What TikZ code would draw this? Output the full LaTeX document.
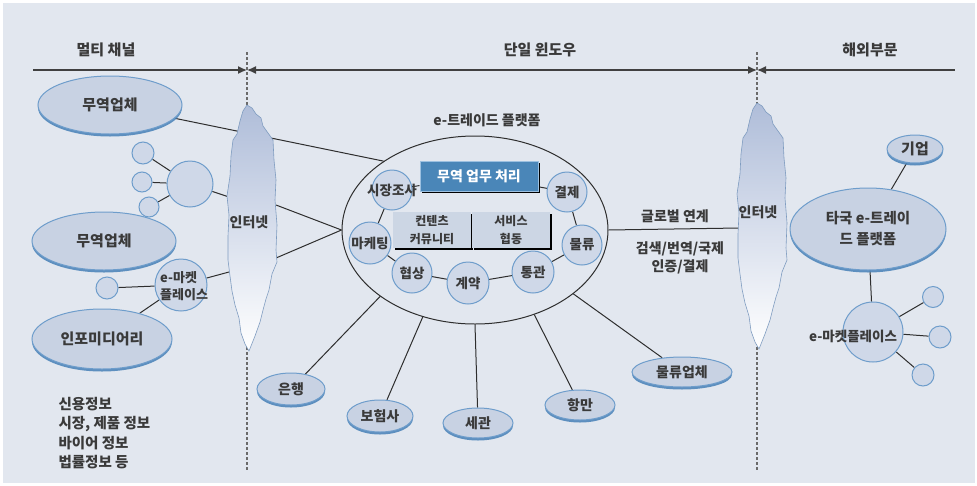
\documentclass[tikz,border=0pt]{standalone}
\usepackage{fontspec}
\setmainfont{Noto Sans CJK KR}
\usetikzlibrary{shapes.geometric,arrows.meta,shadows}
\definecolor{bg}{HTML}{E2E7EF}
\definecolor{bubfill}{HTML}{C8D2E3}
\definecolor{circfill}{HTML}{CFD8E8}
\definecolor{bubedge}{HTML}{6E9DCB}
\definecolor{bubshadow}{HTML}{4F86BA}
\definecolor{textc}{HTML}{3A3A3A}
\definecolor{linec}{HTML}{2E2E2E}
\definecolor{boxblue}{HTML}{4A86B8}
\definecolor{boxedge}{HTML}{9CC0E0}
\definecolor{gridfill}{HTML}{CCD6E4}
\definecolor{cloudtop}{HTML}{AFBDD9}
\definecolor{cloudedge}{HTML}{7F9CC0}
\definecolor{dashc}{HTML}{6A6A6A}
\pgfdeclarelayer{bgfill}
\pgfdeclarelayer{bglines}
\pgfsetlayers{bgfill,bglines,main}
\newcommand\cloudshape{(247,105) -- (252,108) -- (256,114) -- (261,118) -- (263,126) -- (268,133) -- (273,140) -- (274,160) -- (276,180) -- (275,200) -- (277,225) -- (276,250) -- (277,262) -- (272,274) -- (269,290) -- (266,299) -- (263,310) -- (260,322) -- (255,336) -- (249,351) -- (245,344) -- (241,333) -- (239,318) -- (235,305) -- (232,291) -- (230,276) -- (228,260) -- (228,236) -- (229,215) -- (227,196) -- (230,176) -- (231,156) -- (233,140) -- (237,134) -- (240,121) -- (243,111) -- cycle}
\begin{document}
\begin{tikzpicture}[x=1pt,y=-1pt,
  lbl/.style={font=\fontsize{15}{18}\selectfont\bfseries, text=textc},
  ilbl/.style={font=\fontsize{13.5}{16}\selectfont\bfseries, text=textc},
  bub/.style={ellipse, inner sep=0pt, fill=bubfill, draw=bubedge, line width=1pt,
    drop shadow={shadow xshift=0pt, shadow yshift=-2.5pt, fill=bubshadow, opacity=0.9},
    font=\fontsize{15}{18}\selectfont\bfseries, text=textc},
  sc/.style={circle, inner sep=0pt, fill=circfill, draw=bubedge, line width=1pt},
  conn/.style={draw=linec, line width=1pt},
  cloudsty/.style={top color=cloudtop, middle color=white, bottom color=white, draw=cloudedge, line width=0.6pt},
  cell/.style={rectangle, inner sep=0pt, fill=gridfill, minimum width=78, minimum height=18,
    font=\fontsize{12}{14}\selectfont\bfseries, text=textc,
    drop shadow={shadow xshift=1.5pt, shadow yshift=-1.5pt, fill=black, opacity=1}},
  axis/.style={draw=black!75, line width=1.3pt}
]
\useasboundingbox (0,0) rectangle (977,485);
\begin{pgfonlayer}{bgfill}
\fill[white] (0,0) rectangle (977,485);
\fill[bg] (3,3) rectangle (975,483);
\end{pgfonlayer}

% top axis
\coordinate (ls) at (33,70);
\coordinate (d1) at (247,70);
\coordinate (d2) at (757,70);
\coordinate (le) at (955,70);
\draw[axis, -{Latex[length=9pt,width=8pt]}] (ls) -- (d1);
\draw[axis, {Latex[length=9pt,width=8pt]}-{Latex[length=9pt,width=8pt]}] (d1) -- (d2);
\draw[axis, {Latex[length=9pt,width=8pt]}-] (d2) -- (le);
\node[lbl] (t1) at (106,50) {멀티 채널};
\node[lbl] (t2) at (540,50) {단일 윈도우};
\node[lbl] (t3) at (870,50) {해외부문};

% clouds
\path[cloudsty] \cloudshape;
\path[cloudsty, shift={(510,-2)}] \cloudshape;
\node[lbl, font=\fontsize{14}{16}\selectfont\bfseries] (net1) at (249,222) {인터넷};
\node[lbl, font=\fontsize{14}{16}\selectfont\bfseries] (net2) at (758,212) {인터넷};

% cloud edge points
\coordinate (lcb) at (229,197);
\coordinate (lc1) at (276,205);
\coordinate (lc2) at (276,258);
\coordinate (lc3) at (229,272);
\coordinate (rc1) at (739,228);

% left side
\node[bub, minimum width=144, minimum height=58] (tr1) at (110,105) {무역업체};
\node[bub, minimum width=144, minimum height=58] (tr2) at (104,241) {무역업체};
\node[bub, minimum width=140, minimum height=60] (info) at (102,339) {인포미디어리};
\node[sc, minimum size=46] (big) at (190,184) {};
\node[sc, minimum size=22] (s1) at (143,153) {};
\node[sc, minimum size=20] (s2) at (142,182) {};
\node[sc, minimum size=20] (s3) at (149,207) {};
\node[sc, minimum size=52] (emkt) at (181,285) {};
\node[ilbl, align=left, anchor=west, inner sep=0pt, font=\fontsize{13}{17}\selectfont\bfseries] (emktt) at (160,286) {e-마켓\\플레이스};
\node[sc, minimum size=22] (s4) at (107,288) {};

% central platform
\node[lbl, font=\fontsize{14}{16}\selectfont\bfseries] (ptitle) at (487,120) {e-트레이드 플랫폼};
\node[ellipse, draw=linec, line width=1pt, inner sep=0pt, minimum width=266, minimum height=188] (plat) at (475,230) {};
\node[rectangle, fill=boxblue, draw=boxedge, line width=1pt, minimum width=118, minimum height=30, inner sep=0pt,
  text=white, font=\fontsize{14}{16}\selectfont\bfseries,
  drop shadow={shadow xshift=2pt, shadow yshift=-2pt, fill=black, opacity=1}] (work) at (479,176) {무역 업무 처리};
\node[cell] (c1) at (432,221) {컨텐츠};
\node[cell] (c2) at (511,221) {서비스};
\node[cell] (c3) at (432,239) {커뮤니티};
\node[cell] (c4) at (511,239) {협동};
\node[sc, minimum size=40, label={[ilbl]center:시장조사}] (mkt) at (392,190) {};
\node[sc, minimum size=40, label={[ilbl]center:결제}] (pay) at (567,192) {};
\node[sc, minimum size=42, label={[ilbl]center:마케팅}] (mark) at (370,243) {};
\node[sc, minimum size=40, label={[ilbl]center:물류}] (logi) at (582,245) {};
\node[sc, minimum size=40, label={[ilbl]center:협상}] (nego) at (412,273) {};
\node[sc, minimum size=42, label={[ilbl]center:계약}] (cont) at (468,283) {};
\node[sc, minimum size=42, label={[ilbl]center:통관}] (cust) at (533,272) {};

% bottom nodes
\node[bub, minimum width=68, minimum height=32, font=\fontsize{14}{16}\selectfont\bfseries] (bank) at (291,389) {은행};
\node[bub, minimum width=66, minimum height=32, font=\fontsize{14}{16}\selectfont\bfseries] (ins) at (380,416) {보험사};
\node[bub, minimum width=70, minimum height=30, font=\fontsize{14}{16}\selectfont\bfseries] (cus) at (478,423) {세관};
\node[bub, minimum width=70, minimum height=30, font=\fontsize{14}{16}\selectfont\bfseries] (port) at (580,405) {항만};
\node[bub, minimum width=100, minimum height=30, font=\fontsize{14}{16}\selectfont\bfseries] (lco) at (682,372) {물류업체};

% right side
\node[lbl, font=\fontsize{14}{16}\selectfont\bfseries] (glob) at (675,216) {글로벌 연계};
\node[lbl, align=center, font=\fontsize{14}{18.5}\selectfont\bfseries] (globs) at (680,258) {검색/번역/국제\\인증/결제};
\node[bub, minimum width=156, minimum height=82, align=center, font=\fontsize{14.5}{21}\selectfont\bfseries] (other) at (868,229) {타국 e-트레이\\드 플랫폼};
\node[bub, minimum width=56, minimum height=28] (corp) at (915,149) {기업};
\node[sc, minimum size=60] (emkt2) at (873,332) {};
\node[ilbl] (emkt2t) at (853,336) {e-마켓플레이스};
\node[sc, minimum size=21] (r1) at (933,297) {};
\node[sc, minimum size=22] (r2) at (940,337) {};
\node[sc, minimum size=22] (r3) at (923,375) {};

% lines behind
\begin{pgfonlayer}{bglines}
\draw[dashc, line width=1.3pt, dash pattern=on 2.5pt off 2.5pt] (247,52) -- (247,470);
\draw[dashc, line width=1.3pt, dash pattern=on 2.5pt off 2.5pt] (757,52) -- (757,470);
\draw[conn] (tr1) -- (plat.143);
\draw[conn] (s1) -- (big);
\draw[conn] (s2) -- (big);
\draw[conn] (s3) -- (big);
\draw[conn] (big) -- (lcb);
\draw[conn] (lc1) -- (plat.180);
\draw[conn] (lc2) -- (plat.180);
\draw[conn] (emkt) -- (lc3);
\draw[conn] (s4) -- (emkt);
\draw[conn] (info) -- (emkt);
\draw[conn] (mkt) -- (work);
\draw[conn] (work) -- (pay);
\draw[conn] (pay) -- (logi);
\draw[conn] (logi) -- (cust);
\draw[conn] (cust) -- (cont);
\draw[conn] (cont) -- (nego);
\draw[conn] (nego) -- (mark);
\draw[conn] (mark) -- (mkt);
\draw[conn] (plat.215) -- (bank);
\draw[conn] (plat.239) -- (ins);
\draw[conn] (plat.270) -- (cus);
\draw[conn] (plat.305) -- (port);
\draw[conn] (plat.327) -- (lco);
\draw[conn] (plat.0) -- (rc1);
\draw[conn] (corp) -- (other);
\draw[conn] (other) -- (emkt2);
\draw[conn] (emkt2) -- (r1);
\draw[conn] (emkt2) -- (r2);
\draw[conn] (emkt2) -- (r3);
\end{pgfonlayer}

% bottom-left text
\node[lbl, anchor=west, align=left, font=\fontsize{14.5}{19.6}\selectfont\bfseries] (notes) at (55,433) {신용정보\\시장, 제품 정보\\바이어 정보\\법률정보 등};
\end{tikzpicture}
\end{document}
